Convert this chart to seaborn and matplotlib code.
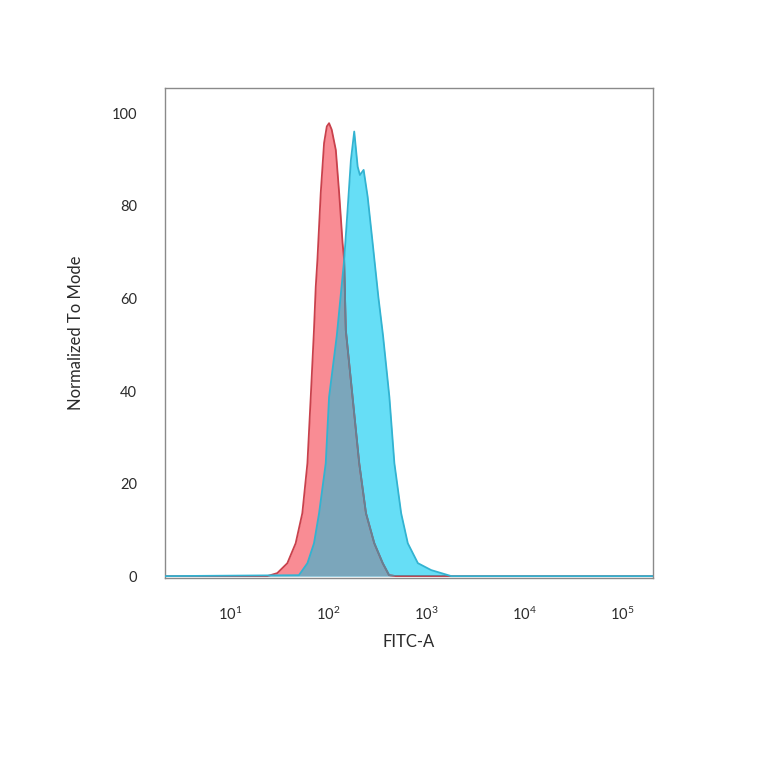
import numpy as np
import pandas as pd
import matplotlib
matplotlib.use("Agg")
import matplotlib.pyplot as plt
import seaborn as sns
from matplotlib.patches import Polygon

# ---- data (FITC-A intensity as log10, Normalized To Mode) ----
red_log = [0.33, 1.376, 1.479, 1.582, 1.667, 1.735, 1.787, 1.821, 1.854, 1.872, 1.889,
           1.923, 1.957, 1.985, 2.008, 2.035, 2.077, 2.111, 2.146, 2.162, 2.179, 2.248, 2.316,
           2.385, 2.470, 2.556, 2.621, 2.69, 5.32]
red_val = [0, 0, 0.65, 2.8, 7.1, 13.6, 24.4, 38.7, 53.2, 62.5, 68.3,
           82.8, 93.6, 97.2, 97.9, 96.5, 92.1, 82.8, 72.0, 68.3, 53.2, 38.7, 24.4,
           13.6, 7.1, 2.8, 0.2, 0, 0]

cyan_log = [0.33, 1.70, 1.787, 1.854, 1.906, 1.974, 2.008, 2.087, 2.162, 2.197, 2.231,
            2.265, 2.300, 2.323, 2.361, 2.402, 2.453, 2.511, 2.559, 2.624, 2.675,
            2.744, 2.812, 2.915, 3.051, 3.154, 3.256, 5.32]
cyan_val = [0, 0.2, 2.8, 7.1, 13.6, 24.4, 38.7, 52.0, 68.3, 79.1, 89.9,
            96.1, 88.5, 86.7, 87.8, 82.0, 72.0, 60.4, 52.0, 38.7, 24.4,
            13.6, 7.1, 2.8, 1.3, 0.65, 0, 0]

y_ticks = [0, 20, 40, 60, 80, 100]
x_ticks = [1e1, 1e2, 1e3, 1e4, 1e5]
x_tick_labels = [r"$10^{1}$", r"$10^{2}$", r"$10^{3}$", r"$10^{4}$", r"$10^{5}$"]

red_x = 10 ** np.array(red_log)
cyan_x = 10 ** np.array(cyan_log)
df_red = pd.DataFrame({"FITC-A": red_x, "Normalized To Mode": red_val})
df_cyan = pd.DataFrame({"FITC-A": cyan_x, "Normalized To Mode": cyan_val})

sns.set_style("white")
plt.rcParams["font.family"] = ["Lato", "DejaVu Sans"]
plt.rcParams["mathtext.fontset"] = "custom"
plt.rcParams["mathtext.rm"] = "Lato"
plt.rcParams["mathtext.it"] = "Lato"

fig = plt.figure(figsize=(7.64, 7.64), dpi=100)
ax = fig.add_axes([0.216, 0.2441, 0.639, 0.6407])

red_fill = "#f98c94"
red_edge = "#c9414c"
cyan_fill = "#66def6"
cyan_edge = "#33b3d1"
overlap = "#7ba6bb"
overlap_edge = "#5f8497"

# fills
ax.fill_between(df_red["FITC-A"], df_red["Normalized To Mode"], 0, color=red_fill, lw=0, zorder=1)
ax.fill_between(df_cyan["FITC-A"], df_cyan["Normalized To Mode"], 0, color=cyan_fill, lw=0, zorder=2)
ov = ax.fill_between(df_red["FITC-A"], df_red["Normalized To Mode"], 0, color=overlap, lw=0, zorder=3)
clip = Polygon(np.column_stack([df_cyan["FITC-A"], df_cyan["Normalized To Mode"]]),
               closed=True, transform=ax.transData, facecolor="none", edgecolor="none")
ax.add_patch(clip)
ov.set_clip_path(clip)

sns.lineplot(data=df_red, x="FITC-A", y="Normalized To Mode", ax=ax, color=red_edge,
             lw=1.3, sort=False, estimator=None, zorder=4)
sns.lineplot(data=df_red, x="FITC-A", y="Normalized To Mode", ax=ax, color=overlap_edge,
             lw=1.3, sort=False, estimator=None, zorder=4.5)
ax.lines[-1].set_clip_path(clip)
sns.lineplot(data=df_cyan, x="FITC-A", y="Normalized To Mode", ax=ax, color=cyan_edge,
             lw=1.3, sort=False, estimator=None, zorder=5)

ax.set_xscale("log")
ax.set_xlim(10 ** 0.333, 10 ** 5.318)
ax.set_ylim(-0.3, 105.5)
ax.set_xticks(x_ticks)
ax.set_xticklabels(x_tick_labels)
ax.minorticks_off()
ax.set_yticks(y_ticks)
ax.tick_params(axis="both", length=0, labelsize=10.5, labelcolor="#2b2b2b")
ax.tick_params(axis="x", pad=20)
ax.tick_params(axis="y", pad=20)
for s in ax.spines.values():
    s.set_color("#8a8a8a")
    s.set_linewidth(1.0)
ax.set_xlabel("FITC-A", fontsize=12, color="#2b2b2b", labelpad=8)
ax.set_ylabel("Normalized To Mode", fontsize=12, color="#2b2b2b", labelpad=20)

fig.savefig("out.png", dpi=100)
